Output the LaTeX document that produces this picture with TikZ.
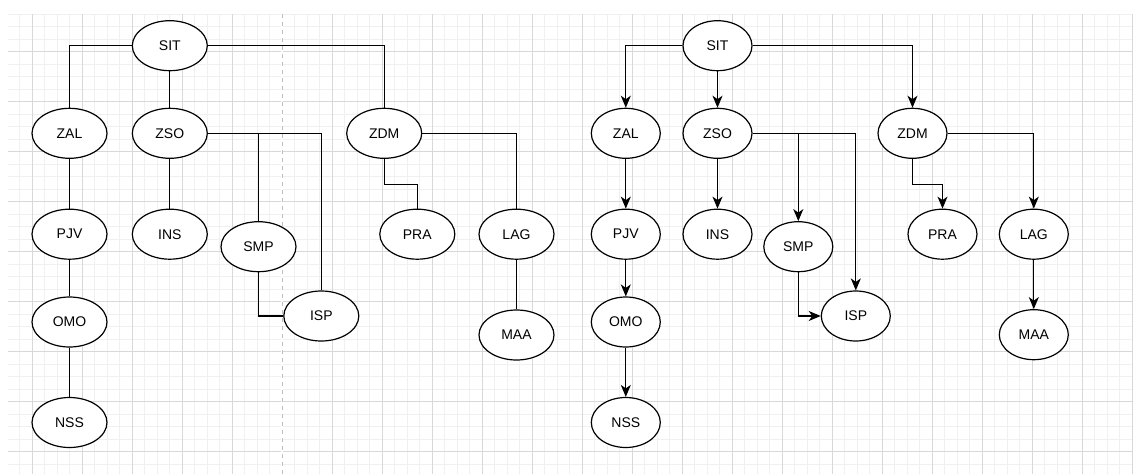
\documentclass[tikz,border=0pt]{standalone}
\usepackage{fontspec}
\setmainfont{Liberation Sans}
\usetikzlibrary{shapes.geometric,arrows.meta}
\definecolor{minorc}{RGB}{240,240,240}
\definecolor{majorc}{RGB}{216,216,216}
\definecolor{pagec}{RGB}{190,190,190}
\tikzset{
  nd/.style={ellipse, draw, line width=1.2pt, minimum width=75pt, minimum height=50pt, inner sep=0pt, fill=white, font=\fontsize{14}{16}\selectfont},
  ndr/.style={nd, minimum width=69pt},
  ln/.style={line width=1.3pt},
  arr/.style={ln, -{Stealth[length=12pt,width=10pt,inset=3.5pt]}}
}
\begin{document}
\begin{tikzpicture}[x=1pt,y=-1pt]
\useasboundingbox (0,0) rectangle (1133,474);
\fill[white] (0,0) rectangle (1133,474);
% grid
\begin{scope}
\clip (8,14) rectangle (1133,474);
\foreach \i in {0,...,89} \draw[minorc, line width=0.9pt] ({19.5+12.5*\i},14) -- ({19.5+12.5*\i},474);
\foreach \i in {0,...,36} \draw[minorc, line width=0.9pt] (8,{14.3+12.5*\i}) -- (1133,{14.3+12.5*\i});
\foreach \i in {0,...,22} \draw[majorc, line width=0.9pt] ({32+50*\i},14) -- ({32+50*\i},474);
\foreach \i in {0,...,8} \draw[majorc, line width=0.9pt] (8,{51.8+50*\i}) -- (1133,{51.8+50*\i});
\draw[white, line width=1.2pt] (282,14) -- (282,474);
\draw[pagec, line width=0.9pt, dash pattern=on 4pt off 4pt] (282,14) -- (282,474);
\end{scope}
% left tree
\node[nd] (LSIT) at (169.8,45.7) {SIT};
\node[nd] (LZAL) at (69.5,133.3) {ZAL};
\node[nd] (LZSO) at (169.8,133.3) {ZSO};
\node[nd] (LZDM) at (384.2,133.3) {ZDM};
\node[nd] (LPJV) at (69.5,234.2) {PJV};
\node[nd] (LINS) at (169.8,234.2) {INS};
\node[nd] (LSMP) at (258.5,246.7) {SMP};
\node[nd] (LPRA) at (417.3,234.2) {PRA};
\node[nd] (LLAG) at (516.5,234.2) {LAG};
\node[nd] (LOMO) at (69.5,322) {OMO};
\node[nd] (LISP) at (321.3,316) {ISP};
\node[nd] (LMAA) at (516.5,335) {MAA};
\node[nd] (LNSS) at (69.5,422.5) {NSS};
\draw[ln] (LSIT.west) -| (LZAL.north);
\draw[ln] (LSIT.south) -- (LZSO.north);
\draw[ln] (LSIT.east) -| (LZDM.north);
\draw[ln] (LZAL.south) -- (LPJV.north);
\draw[ln] (LPJV.south) -- (LOMO.north);
\draw[ln] (LOMO.south) -- (LNSS.north);
\draw[ln] (LZSO.south) -- (LINS.north);
\draw[ln] (LZSO.east) -| (LSMP.north);
\draw[ln] (LZSO.east) -| (LISP.north);
\draw[ln] (LSMP.south) |- (LISP.west);
\draw[ln] (LZDM.south) -- ++(0,25.5) -| (LPRA.north);
\draw[ln] (LZDM.east) -| (LLAG.north);
\draw[ln] (LLAG.south) -- (LMAA.north);
% right tree
\node[ndr] (RSIT) at (717.5,45.7) {SIT};
\node[ndr] (RZAL) at (625.8,133.3) {ZAL};
\node[ndr] (RZSO) at (717.5,133.3) {ZSO};
\node[ndr] (RZDM) at (912.5,133.3) {ZDM};
\node[ndr] (RPJV) at (625.8,234.2) {PJV};
\node[ndr] (RINS) at (717.5,234.2) {INS};
\node[ndr] (RSMP) at (798.3,246.7) {SMP};
\node[ndr] (RPRA) at (942.5,234.2) {PRA};
\node[ndr] (RLAG) at (1033.8,234.2) {LAG};
\node[ndr] (ROMO) at (625.8,322) {OMO};
\node[ndr] (RISP) at (855.8,316) {ISP};
\node[ndr] (RMAA) at (1033.8,334.7) {MAA};
\node[ndr] (RNSS) at (625.8,422.5) {NSS};
\draw[arr] (RSIT.west) -| (RZAL.north);
\draw[arr] (RSIT.south) -- (RZSO.north);
\draw[arr] (RSIT.east) -| (RZDM.north);
\draw[arr] (RZAL.south) -- (RPJV.north);
\draw[arr] (RPJV.south) -- (ROMO.north);
\draw[arr] (ROMO.south) -- (RNSS.north);
\draw[arr] (RZSO.south) -- (RINS.north);
\draw[arr] (RZSO.east) -| (RSMP.north);
\draw[arr] (RZSO.east) -| (RISP.north);
\draw[arr] (RSMP.south) |- (RISP.west);
\draw[arr] (RZDM.south) -- ++(0,25.5) -| (RPRA.north);
\draw[arr] (RZDM.east) -| (RLAG.north);
\draw[arr] (RLAG.south) -- (RMAA.north);
\end{tikzpicture}
\end{document}
